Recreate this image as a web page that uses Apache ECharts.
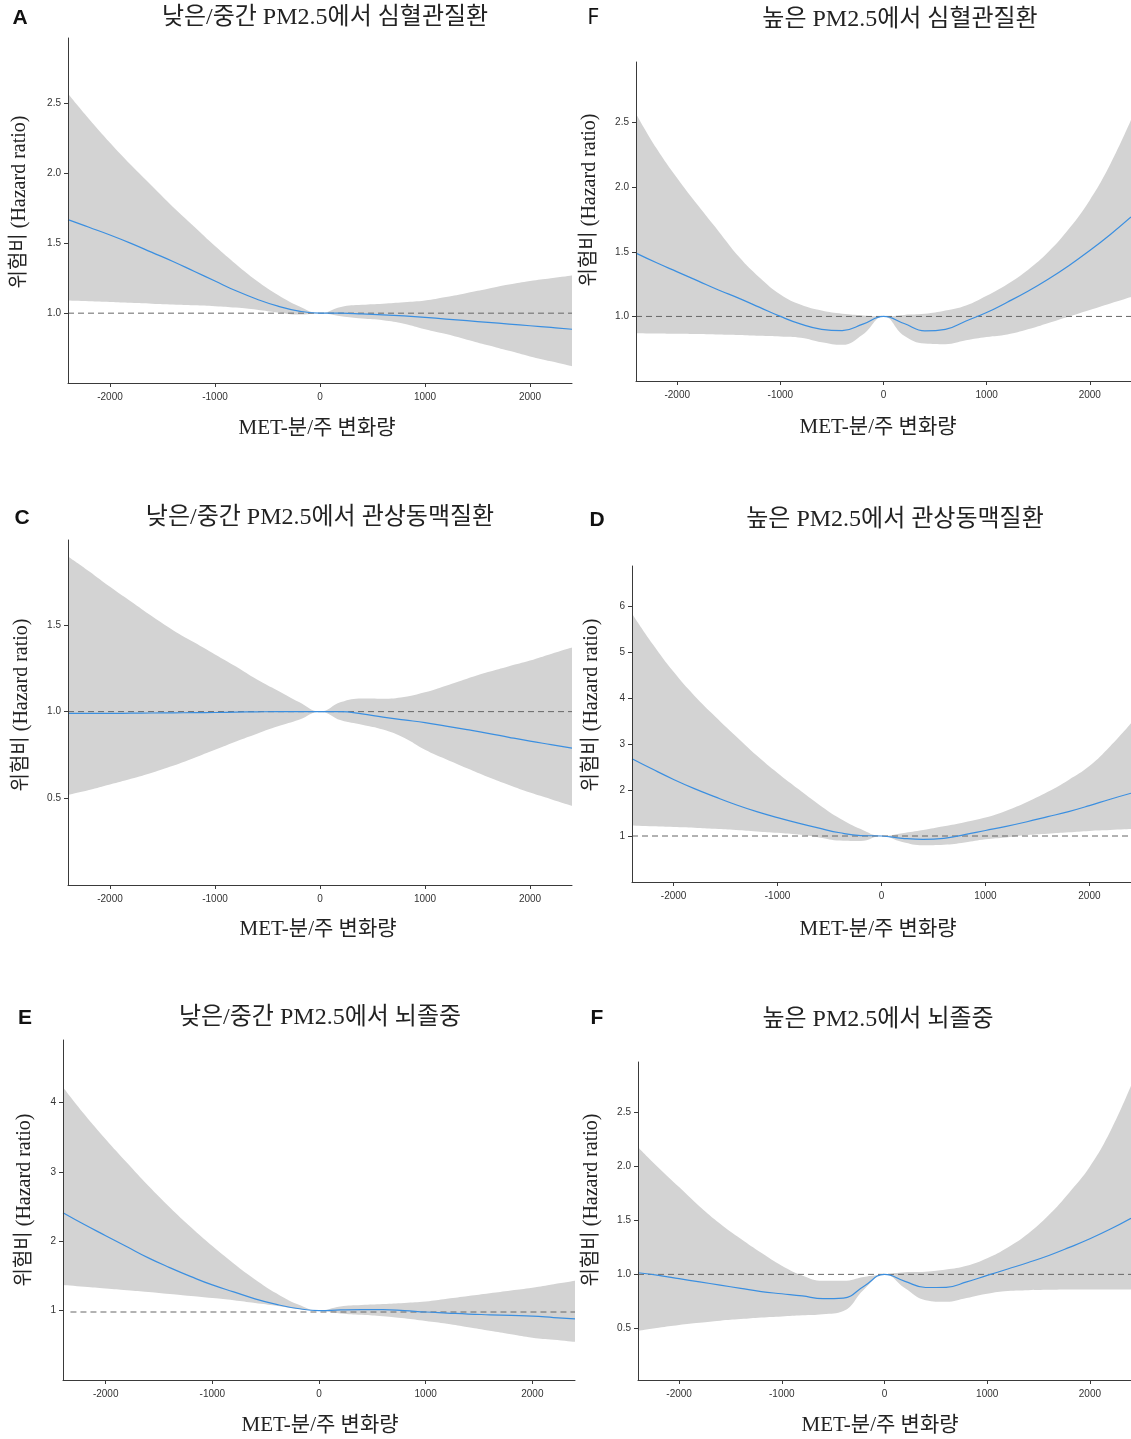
<!DOCTYPE html>
<html>
<head>
<meta charset="utf-8">
<script src="https://cdn.jsdelivr.net/npm/echarts@6/dist/echarts.min.js"></script>
<style>
  html, body { margin: 0; padding: 0; background: #fff; }
  #chart { width: 1131px; height: 1439px; }
</style>
</head>
<body>
<div id="chart"></div>
<script>
// MET-min/week change, shared by all panels
const xs = [-2400, -2200, -2000, -1800, -1600, -1400, -1200, -1000, -800, -600, -400, -200, 0,
  200, 400, 600, 800, 1000, 1200, 1400, 1600, 1800, 2000, 2200, 2400];
const xTicks = [-2000, -1000, 0, 1000, 2000];

// A: low/mid PM2.5, CVD
const hrA = [1.67, 1.615, 1.56, 1.50, 1.435, 1.37, 1.30, 1.23, 1.16, 1.10, 1.05, 1.015, 1.0, 1.0, 0.995, 0.988, 0.98, 0.97, 0.958, 0.946, 0.934, 0.922, 0.91, 0.898, 0.885];
const upA = [2.57, 2.39, 2.22, 2.06, 1.91, 1.76, 1.62, 1.48, 1.35, 1.23, 1.13, 1.05, 1.0, 1.045, 1.06, 1.068, 1.078, 1.09, 1.115, 1.145, 1.175, 1.205, 1.23, 1.25, 1.27];
const loA = [1.09, 1.085, 1.08, 1.074, 1.068, 1.062, 1.056, 1.05, 1.04, 1.025, 1.005, 0.99, 1.0, 0.978, 0.962, 0.95, 0.925, 0.885, 0.85, 0.81, 0.77, 0.73, 0.69, 0.655, 0.62];

// B: high PM2.5, CVD
const hrB = [1.49, 1.415, 1.345, 1.275, 1.205, 1.14, 1.07, 1.0, 0.94, 0.90, 0.89, 0.94, 1.0, 0.945, 0.888, 0.90, 0.965, 1.03, 1.11, 1.195, 1.29, 1.395, 1.51, 1.635, 1.77];
const upB = [2.57, 2.30, 2.07, 1.86, 1.66, 1.46, 1.30, 1.17, 1.09, 1.045, 1.02, 1.008, 1.0, 1.012, 1.02, 1.045, 1.085, 1.16, 1.25, 1.36, 1.50, 1.68, 1.90, 2.18, 2.52];
const loB = [0.87, 0.868, 0.866, 0.864, 0.86, 0.856, 0.85, 0.845, 0.835, 0.80, 0.78, 0.86, 1.0, 0.85, 0.79, 0.785, 0.815, 0.84, 0.86, 0.90, 0.95, 1.0, 1.05, 1.10, 1.15];

// C: low/mid PM2.5, CHD
const hrC = [0.99, 0.99, 0.99, 0.991, 0.992, 0.993, 0.994, 0.995, 0.997, 0.999, 1.0, 1.0, 1.0, 1.0, 0.987, 0.968, 0.952, 0.937, 0.916, 0.896, 0.875, 0.852, 0.83, 0.81, 0.79];
const upC = [1.895, 1.81, 1.72, 1.635, 1.55, 1.47, 1.40, 1.33, 1.26, 1.185, 1.12, 1.055, 1.0, 1.055, 1.076, 1.075, 1.085, 1.112, 1.15, 1.19, 1.228, 1.262, 1.295, 1.333, 1.37];
const loC = [0.52, 0.548, 0.58, 0.613, 0.648, 0.688, 0.733, 0.78, 0.828, 0.873, 0.915, 0.953, 1.0, 0.95, 0.925, 0.897, 0.85, 0.78, 0.725, 0.673, 0.623, 0.577, 0.533, 0.495, 0.457];

// D: high PM2.5, CHD
const hrD = [2.68, 2.45, 2.23, 2.03, 1.85, 1.68, 1.53, 1.40, 1.28, 1.17, 1.07, 1.01, 1.0, 0.95, 0.925, 0.95, 1.03, 1.12, 1.21, 1.31, 1.42, 1.53, 1.66, 1.80, 1.93];
const upD = [5.84, 5.17, 4.57, 4.05, 3.60, 3.17, 2.75, 2.37, 2.02, 1.68, 1.38, 1.15, 1.0, 1.06, 1.13, 1.21, 1.30, 1.40, 1.55, 1.74, 1.96, 2.22, 2.52, 2.95, 3.45];
const loD = [1.23, 1.21, 1.195, 1.18, 1.155, 1.13, 1.10, 1.07, 1.03, 0.97, 0.90, 0.89, 1.0, 0.87, 0.80, 0.81, 0.86, 0.93, 0.97, 1.02, 1.05, 1.08, 1.11, 1.13, 1.15];

// E: low/mid PM2.5, stroke
const hrE = [2.41, 2.24, 2.08, 1.92, 1.76, 1.62, 1.49, 1.37, 1.27, 1.17, 1.09, 1.03, 1.0, 1.01, 1.015, 1.015, 1.0, 0.98, 0.965, 0.95, 0.94, 0.93, 0.92, 0.90, 0.88];
const upE = [4.22, 3.83, 3.47, 3.13, 2.80, 2.49, 2.20, 1.93, 1.68, 1.45, 1.25, 1.09, 1.0, 1.06, 1.08, 1.095, 1.11, 1.13, 1.17, 1.21, 1.25, 1.29, 1.33, 1.38, 1.43];
const loE = [1.37, 1.345, 1.32, 1.295, 1.27, 1.24, 1.21, 1.18, 1.15, 1.11, 1.07, 1.025, 1.0, 0.96, 0.94, 0.92, 0.89, 0.85, 0.81, 0.76, 0.71, 0.66, 0.61, 0.58, 0.55];

// F: high PM2.5, stroke
const hrF = [1.015, 0.99, 0.96, 0.93, 0.90, 0.87, 0.84, 0.82, 0.80, 0.775, 0.78, 0.89, 1.0, 0.935, 0.878, 0.88, 0.93, 0.99, 1.05, 1.11, 1.175, 1.25, 1.33, 1.42, 1.52];
const upF = [2.18, 1.99, 1.81, 1.63, 1.47, 1.33, 1.20, 1.08, 0.99, 0.94, 0.94, 0.975, 1.0, 1.02, 1.025, 1.045, 1.08, 1.15, 1.25, 1.38, 1.55, 1.76, 2.0, 2.33, 2.75];
const loF = [0.477, 0.505, 0.53, 0.55, 0.57, 0.585, 0.60, 0.61, 0.62, 0.63, 0.66, 0.86, 1.0, 0.87, 0.76, 0.745, 0.78, 0.82, 0.845, 0.853, 0.857, 0.86, 0.86, 0.86, 0.86];

const titles = [
  '낮은/중간 PM2.5에서 심혈관질환', '높은 PM2.5에서 심혈관질환',
  '낮은/중간 PM2.5에서 관상동맥질환', '높은 PM2.5에서 관상동맥질환',
  '낮은/중간 PM2.5에서 뇌졸중', '높은 PM2.5에서 뇌졸중'
];
const letters = ['A', 'F', 'C', 'D', 'E', 'F'];
const yTicksA = [1.0, 1.5, 2.0, 2.5];
const yTicksC = [0.5, 1.0, 1.5];
const yTicksD = [1, 2, 3, 4, 5, 6];
const yTicksE = [1, 2, 3, 4];
const yTicksF = [0.5, 1.0, 1.5, 2.0, 2.5];
const refLevel = [1, 1, 1, 1, 0.98, 1];

const panels = [
  { grid: [68, 38, 504, 345], y: [0.5, 2.97], ticks: yTicksA, dec: 1, hr: hrA, up: upA, lo: loA,
    title: [325, 18], letter: [20, 18, true], yname: [20, 202], xname: [317, 428] },
  { grid: [636, 62, 506, 319], y: [0.5, 2.97], ticks: yTicksA, dec: 1, hr: hrB, up: upB, lo: loB,
    title: [900, 20], letter: [593, 18, false], yname: [590, 200], xname: [878, 427] },
  { grid: [68, 540, 504, 345], y: [0.0, 1.99], ticks: yTicksC, dec: 1, hr: hrC, up: upC, lo: loC,
    title: [320, 518], letter: [22, 518, true], yname: [22, 705], xname: [318, 929] },
  { grid: [632, 566, 512, 316], y: [0.0, 6.87], ticks: yTicksD, dec: 0, hr: hrD, up: upD, lo: loD,
    title: [895, 520], letter: [597, 520, true], yname: [592, 705], xname: [878, 929] },
  { grid: [63, 1040, 512, 340], y: [0.0, 4.9], ticks: yTicksE, dec: 0, hr: hrE, up: upE, lo: loE,
    title: [320, 1018], letter: [25, 1018, true], yname: [25, 1200], xname: [320, 1425] },
  { grid: [638, 1062, 505, 318], y: [0.02, 2.97], ticks: yTicksF, dec: 1, hr: hrF, up: upF, lo: loF,
    title: [878, 1020], letter: [597, 1018, true], yname: [592, 1200], xname: [880, 1425] }
];

const mixFont = "'Liberation Serif', 'Noto Sans CJK KR', serif";
const axisColor = '#3a3a3a';
const smooth = 0.45;
const grids = [], xAxes = [], yAxes = [], series = [], graphics = [];

panels.forEach((p, i) => {
  grids.push({ left: p.grid[0], top: p.grid[1], width: p.grid[2], height: p.grid[3] });
  xAxes.push({
    gridIndex: i, type: 'value', min: -2400, max: 2400, z: 10,
    axisLine: { onZero: false, lineStyle: { color: axisColor, width: 1 } },
    axisTick: { show: true, length: 4, customValues: xTicks, lineStyle: { color: axisColor } },
    axisLabel: {
      customValues: xTicks, color: '#333', fontSize: 10, fontFamily: 'Liberation Sans', margin: 9,
      formatter: (v) => String(v)
    },
    splitLine: { show: false }
  });
  yAxes.push({
    gridIndex: i, type: 'value', min: p.y[0], max: p.y[1], z: 10,
    axisLine: { show: true, onZero: false, lineStyle: { color: axisColor, width: 1 } },
    axisTick: { show: true, length: 4, customValues: p.ticks, lineStyle: { color: axisColor } },
    axisLabel: {
      customValues: p.ticks, color: '#333', fontSize: 10, fontFamily: 'Liberation Sans', margin: 7,
      formatter: (v) => Number(v).toFixed(p.dec)
    },
    splitLine: { show: false }
  });
  // confidence band: grey area under the upper bound, then white area under the lower bound
  series.push({
    type: 'line', xAxisIndex: i, yAxisIndex: i, smooth: smooth, symbol: 'none', silent: true, z: 1,
    lineStyle: { width: 0, opacity: 0 }, areaStyle: { color: '#d3d3d3', opacity: 1, origin: 'start' },
    data: xs.map((x, k) => [x, p.up[k]])
  });
  series.push({
    type: 'line', xAxisIndex: i, yAxisIndex: i, smooth: smooth, symbol: 'none', silent: true, z: 2,
    lineStyle: { width: 0, opacity: 0 }, areaStyle: { color: '#ffffff', opacity: 1, origin: 'start' },
    data: xs.map((x, k) => [x, p.lo[k]])
  });
  series.push({
    type: 'line', xAxisIndex: i, yAxisIndex: i, symbol: 'none', silent: true, z: 3,
    lineStyle: { color: '#666', width: 1, type: [6, 4] },
    data: [[i === 4 ? -2330 : -2400, refLevel[i]], [2400, refLevel[i]]]
  });
  series.push({
    type: 'line', xAxisIndex: i, yAxisIndex: i, smooth: smooth, symbol: 'none', silent: true, z: 4,
    lineStyle: { color: '#3b8fe0', width: 1.2 },
    data: xs.map((x, k) => [x, p.hr[k]])
  });

  graphics.push({
    type: 'text', x: p.title[0], y: p.title[1],
    style: { text: titles[i], font: '24px ' + mixFont, fill: '#222', align: 'center', verticalAlign: 'middle' }
  });
  graphics.push({
    type: 'text', x: p.letter[0], y: p.letter[1],
    style: {
      text: letters[i], fill: '#111', align: 'center', verticalAlign: 'middle',
      font: p.letter[2] ? 'bold 21px "Liberation Sans"' : '22px "Noto Sans"'
    }
  });
  graphics.push({
    type: 'text', x: p.yname[0], y: p.yname[1], rotation: Math.PI / 2,
    style: { text: '위험비 (Hazard ratio)', font: '20px ' + mixFont, fill: '#222', align: 'center', verticalAlign: 'middle' }
  });
  graphics.push({
    type: 'text', x: p.xname[0], y: p.xname[1],
    style: { text: 'MET-분/주 변화량', font: '21px ' + mixFont, fill: '#222', align: 'center', verticalAlign: 'middle' }
  });
});

const chart = echarts.init(document.getElementById('chart'), null, { renderer: 'canvas' });
chart.setOption({
  backgroundColor: '#fff',
  animation: false,
  grid: grids,
  xAxis: xAxes,
  yAxis: yAxes,
  series: series,
  graphic: graphics
});
</script>
</body>
</html>
